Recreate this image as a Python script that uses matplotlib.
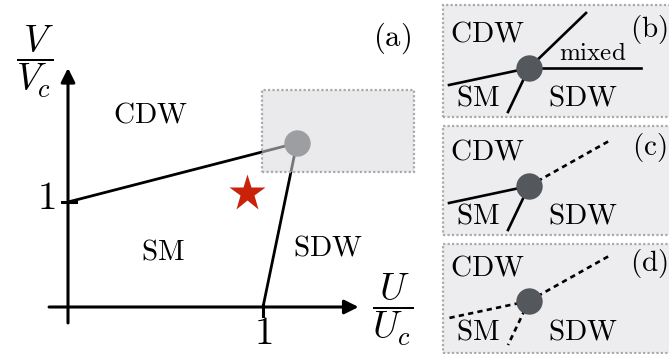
import matplotlib.pyplot as plt
from matplotlib.patches import Rectangle

plt.rcParams['mathtext.fontset'] = 'cm'

# phase diagram (a), U in units of U_c and V in units of V_c
triple_u, triple_v = 1.174, 1.562
cdw_sm_u = [0.0, triple_u]
cdw_sm_v = [1.0, triple_v]
sdw_sm_u = [1.0, triple_u]
sdw_sm_v = [0.0, triple_v]
star_u, star_v = 0.918, 1.086
zoom_u = [0.995, 1.774]
zoom_v = [1.286, 2.067]
region_names = ['CDW', 'SM', 'SDW']
region_u = [0.42, 0.487, 1.333]
region_v = [1.829, 0.524, 0.571]
tick_label = '1'

# close-ups (b)-(d): arms leaving the triple point (pixel units around it)
arm_sm_cdw = (-80, -17)
arm_sm_sdw = (-21, -44)
arm_cdw_mixed = (57, 55)
arm_mixed_sdw = (112, 0)
arm_cdw_sdw = (80, 45)

W, H = 669, 354
fig = plt.figure(figsize=(W / 100, H / 100), dpi=100)

dot_grey = '#54575c'
ink = 'k'

# ---- panel (a)
ax = fig.add_axes([0, 0, 440 / W, 1])
ax.set_xlim(-68 / 195, (440 - 68) / 195)
ax.set_ylim(-47 / 105, (354 - 47) / 105)
ax.axis('off')

arrow = dict(arrowstyle='-|>', lw=2.2, color=ink, mutation_scale=21,
             shrinkA=0, shrinkB=0)
ax.annotate('', xy=(1.49, 0), xytext=(-0.097, 0), arrowprops=arrow)
ax.annotate('', xy=(0, 2.276), xytext=(0, -0.152), arrowprops=arrow)
ax.plot([1, 1], [-0.085, 0.02], color=ink, lw=2.2)
ax.plot([-0.03, 0.04], [1, 1], color=ink, lw=2.2)
ax.text(1, -0.25, r'$%s$' % tick_label, fontsize=28, ha='center', va='center')
ax.text(-0.11, 1.04, r'$%s$' % tick_label, fontsize=28, ha='center', va='center')

ax.text(-0.172, 2.33, r'$\dfrac{V}{V_c}$', fontsize=27, ha='center', va='center')
ax.text(1.667, -0.03, r'$\dfrac{U}{U_c}$', fontsize=27, ha='center', va='center')
ax.text(1.662, 2.562, r'$\mathrm{(a)}$', fontsize=22, ha='center', va='center')

ax.plot(cdw_sm_u, cdw_sm_v, color=ink, lw=2.0, solid_capstyle='butt')
ax.plot(sdw_sm_u, sdw_sm_v, color=ink, lw=2.0, solid_capstyle='butt')
ax.plot(triple_u, triple_v, 'o', ms=19, color=dot_grey, mec='none', zorder=3)
ax.plot(star_u, star_v, '*', ms=28, color='#c8230a', mec='none')

for name, u, v in zip(region_names, region_u, region_v):
    ax.text(u, v, r'$\mathrm{%s}$' % name, fontsize=21, ha='center', va='center')

# shaded zoom window drawn over the triple point
ax.add_patch(Rectangle((zoom_u[0], zoom_v[0]), zoom_u[1] - zoom_u[0],
                       zoom_v[1] - zoom_v[0], facecolor='#d9dadd', alpha=0.55,
                       edgecolor='none', zorder=4))
ax.add_patch(Rectangle((zoom_u[0], zoom_v[0]), zoom_u[1] - zoom_u[0],
                       zoom_v[1] - zoom_v[0], fill=False, edgecolor='#aaaaaa',
                       lw=1.6, ls=(0, (1, 1)), zorder=5))

# ---- panels (b)-(d)
panels = [('(b)', 5, 117, 68), ('(c)', 126, 235, 186), ('(d)', 244, 353, 301)]
cx = 529
for label, top, bottom, cy in panels:
    sub = fig.add_axes([440 / W, (H - bottom - 3) / H, 229 / W,
                        (bottom - top + 6) / H])
    sub.set_xlim(440 - cx, 669 - cx)
    sub.set_ylim(cy - bottom - 3, cy - top + 3)
    sub.axis('off')
    sub.add_patch(Rectangle((443 - cx, cy - bottom), 300, bottom - top,
                            facecolor='#ededef', edgecolor='#aaaaaa', lw=1.6,
                            ls=(0, (1, 1))))

    if label == '(b)':
        arms = [(arm_sm_cdw, '-'), (arm_sm_sdw, '-'),
                (arm_cdw_mixed, '-'), (arm_mixed_sdw, '-')]
        sub.text(64, 15, r'$\mathrm{mixed}$', fontsize=18, ha='center',
                 va='center')
    elif label == '(c)':
        arms = [(arm_sm_cdw, '-'), (arm_sm_sdw, '-'), (arm_cdw_sdw, '--')]
    else:
        arms = [(arm_sm_cdw, '--'), (arm_sm_sdw, '--'), (arm_cdw_sdw, '--')]

    for (dx, dy), style in arms:
        if style == '-':
            sub.plot([0, dx], [0, dy], color=ink, lw=1.9)
        else:
            sub.plot([0, dx], [0, dy], color=ink, lw=1.9, dashes=(2, 1.6))
    sub.plot(0, 0, 'o', ms=19, color=dot_grey, mec='none', zorder=3)

    sub.text(-42, 34, r'$\mathrm{CDW}$', fontsize=21, ha='center', va='center')
    sub.text(-51, -30, r'$\mathrm{SM}$', fontsize=21, ha='center', va='center')
    sub.text(54, -30, r'$\mathrm{SDW}$', fontsize=21, ha='center', va='center')
    sub.text(120, 38, r'$\mathrm{%s}$' % label, fontsize=21, ha='center',
             va='center')

fig.savefig('out.png', dpi=100)
